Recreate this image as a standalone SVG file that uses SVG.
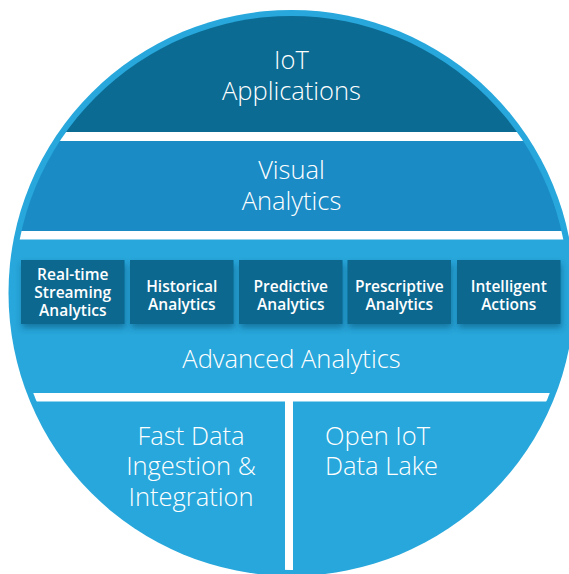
<svg xmlns="http://www.w3.org/2000/svg" width="569" height="574" viewBox="0 0 569 574">
<defs>
<style>
.t{font-family:"Open Sans","Noto Sans",sans-serif;fill:#fff;text-anchor:middle}
.big{font-size:25.5px;font-weight:300}
.box{font-size:15.5px;font-weight:600}
.bx{fill:#0a6790;filter:url(#sh)}
.w{fill:#fff}
</style>
<clipPath id="inner"><circle cx="291.5" cy="293" r="277"/></clipPath>
<filter id="sh" x="-20%" y="-20%" width="140%" height="150%">
<feDropShadow dx="1" dy="4" stdDeviation="3" flood-color="#0a3d5a" flood-opacity="0.45"/>
</filter>
</defs>
<circle id="outer" cx="291.5" cy="293" r="283" fill="#27a7db"/>
<g clip-path="url(#inner)">
<rect x="0" y="0" width="569" height="132" fill="#0b6b93"/>
<rect x="0" y="141" width="569" height="90" fill="#1a8bc5"/>
<rect class="w" x="0" y="132" width="569" height="9"/>
<rect class="w" x="0" y="231" width="569" height="8.5"/>
<rect class="w" x="0" y="393" width="569" height="8.5"/>
<rect class="w" x="285" y="401" width="8" height="200"/>
</g>
<g id="iot-applications">
<text class="t big" x="291.5" y="69">IoT</text>
<text class="t big" x="291.5" y="99.5">Applications</text>
</g>
<g id="visual-analytics">
<text class="t big" x="291.5" y="179">Visual</text>
<text class="t big" x="291.5" y="209.5">Analytics</text>
</g>
<g id="realtime">
<rect class="bx" x="21" y="260" width="103.5" height="64"/>
<text class="t box" x="72.75" y="280">Real-time</text>
<text class="t box" x="72.75" y="298">Streaming</text>
<text class="t box" x="72.75" y="316">Analytics</text>
</g>
<g id="historical">
<rect class="bx" x="130" y="260" width="103.5" height="64"/>
<text class="t box" x="181.75" y="291.5">Historical</text>
<text class="t box" x="181.75" y="309.5">Analytics</text>
</g>
<g id="predictive">
<rect class="bx" x="239" y="260" width="103.5" height="64"/>
<text class="t box" x="290.75" y="291.5">Predictive</text>
<text class="t box" x="290.75" y="309.5">Analytics</text>
</g>
<g id="prescriptive">
<rect class="bx" x="347.5" y="260" width="103.5" height="64"/>
<text class="t box" x="399.25" y="291.5">Prescriptive</text>
<text class="t box" x="399.25" y="309.5">Analytics</text>
</g>
<g id="intelligent">
<rect class="bx" x="457" y="260" width="103.5" height="64"/>
<text class="t box" x="508.75" y="291.5">Intelligent</text>
<text class="t box" x="508.75" y="309.5">Actions</text>
</g>
<g id="advanced-analytics">
<text class="t big" x="291.5" y="368">Advanced Analytics</text>
</g>
<g id="fast-data">
<text class="t big" x="191" y="445">Fast Data</text>
<text class="t big" x="191" y="475">Ingestion &amp;</text>
<text class="t big" x="191" y="505.5">Integration</text>
</g>
<g id="data-lake">
<text class="t big" x="325" y="445" style="text-anchor:start">Open IoT</text>
<text class="t big" x="325" y="475" style="text-anchor:start">Data Lake</text>
</g>
<g id="connectors"/>
</svg>
